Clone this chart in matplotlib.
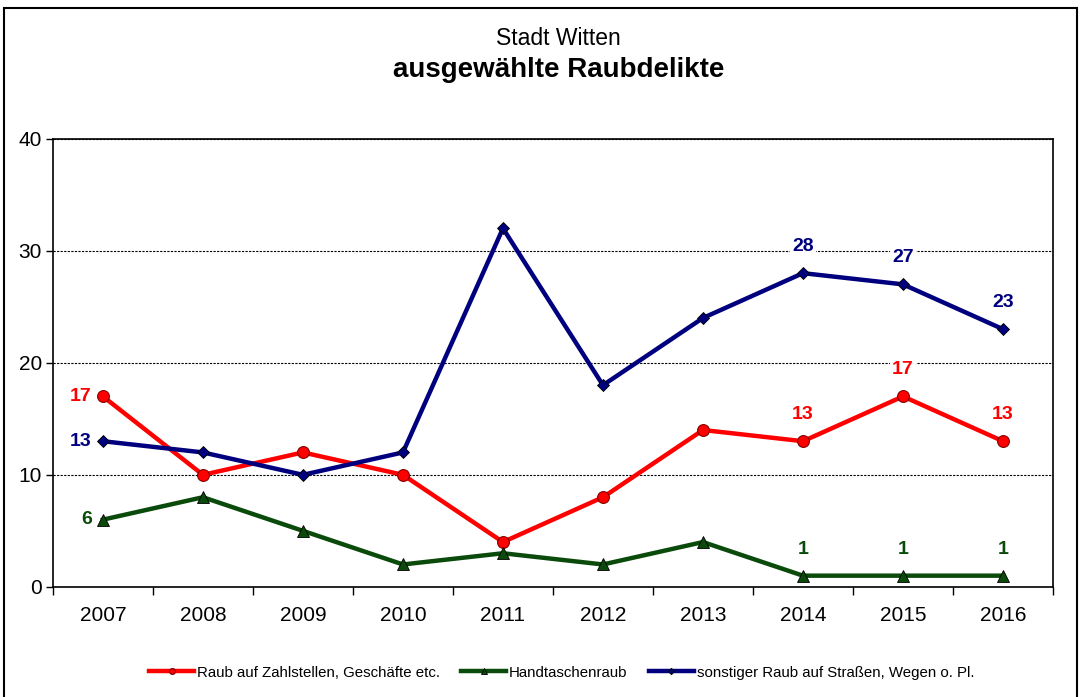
import matplotlib
matplotlib.use("Agg")
import matplotlib.pyplot as plt
from matplotlib.patches import Rectangle

plt.rcParams['font.family'] = ['Liberation Sans', 'DejaVu Sans']

# Daten
jahre = ['2007', '2008', '2009', '2010', '2011', '2012', '2013', '2014', '2015', '2016']
zahlstellen = [17, 10, 12, 10, 4, 8, 14, 13, 17, 13]
handtaschen = [6, 8, 5, 2, 3, 2, 4, 1, 1, 1]
sonstiger = [13, 12, 10, 12, 32, 18, 24, 28, 27, 23]

# Beschriftete Punkte (Index)
label_idx = [0, 7, 8, 9]

rot = '#ff0000'
gruen = '#0a4a0a'
blau = '#00007f'

fig = plt.figure(figsize=(10.8, 6.97), dpi=100)
ax = fig.add_axes([0.049, 0.158, 0.926, 0.643])

x = list(range(len(jahre)))
ax.plot(x, zahlstellen, color=rot, lw=3.2, marker='o', ms=8.5,
        mfc=rot, mec='#800000', mew=0.8, label='Raub auf Zahlstellen, Geschäfte etc.', zorder=3)
ax.plot(x, handtaschen, color=gruen, lw=3.2, marker='^', ms=9,
        mfc=gruen, mec='black', mew=0.6, label='Handtaschenraub', zorder=3)
ax.plot(x, sonstiger, color=blau, lw=3.2, marker='D', ms=6.5,
        mfc=blau, mec='black', mew=0.6, label='sonstiger Raub auf Straßen, Wegen o. Pl.', zorder=3)

for werte, farbe in [(zahlstellen, rot), (handtaschen, gruen), (sonstiger, blau)]:
    for i in label_idx:
        if i == 0:
            ax.annotate(str(werte[i]), (x[i], werte[i]), xytext=(-8, 0), textcoords='offset points',
                        ha='right', va='center', fontsize=14, fontweight='bold', color=farbe,
                        bbox=dict(boxstyle='square,pad=0.1', fc='white', ec='none'), zorder=4)
        else:
            ax.annotate(str(werte[i]), (x[i], werte[i]), xytext=(0, 13), textcoords='offset points',
                        ha='center', va='bottom', fontsize=14, fontweight='bold', color=farbe,
                        bbox=dict(boxstyle='square,pad=0.1', fc='white', ec='none'), zorder=4)

ax.set_xlim(-0.5, len(jahre) - 0.5)
ax.set_ylim(0, 40)
ax.set_yticks([0, 10, 20, 30, 40])
ax.set_xticks(x)
ax.set_xticklabels(jahre)
ax.set_xticks([i + 0.5 for i in range(-1, len(jahre))], minor=True)
ax.tick_params(axis='x', which='major', length=0, labelsize=15, pad=14)
ax.tick_params(axis='x', which='minor', length=6, width=1, direction='out')
ax.tick_params(axis='y', length=5, width=1, direction='out', labelsize=15, pad=3)
ax.yaxis.grid(True, linestyle=(0, (2, 1.2)), color='black', lw=0.8)
ax.set_axisbelow(True)
for s in ax.spines.values():
    s.set_linewidth(1.2)

fig.text(0.517, 0.945, 'Stadt Witten', ha='center', va='center', fontsize=16.5)
fig.text(0.517, 0.899, 'ausgewählte Raubdelikte', ha='center', va='center', fontsize=20, fontweight='bold')

fig.legend(loc='center', bbox_to_anchor=(0.52, 0.035), ncol=3, frameon=False, fontsize=10.8,
           handlelength=3.0, handletextpad=0.2, columnspacing=1.4, markerscale=0.5)

fig.patches.append(Rectangle((0.004, -0.01), 0.993, 0.999, transform=fig.transFigure,
                             fill=False, ec='black', lw=1.5))

fig.savefig('out.png', dpi=100)
